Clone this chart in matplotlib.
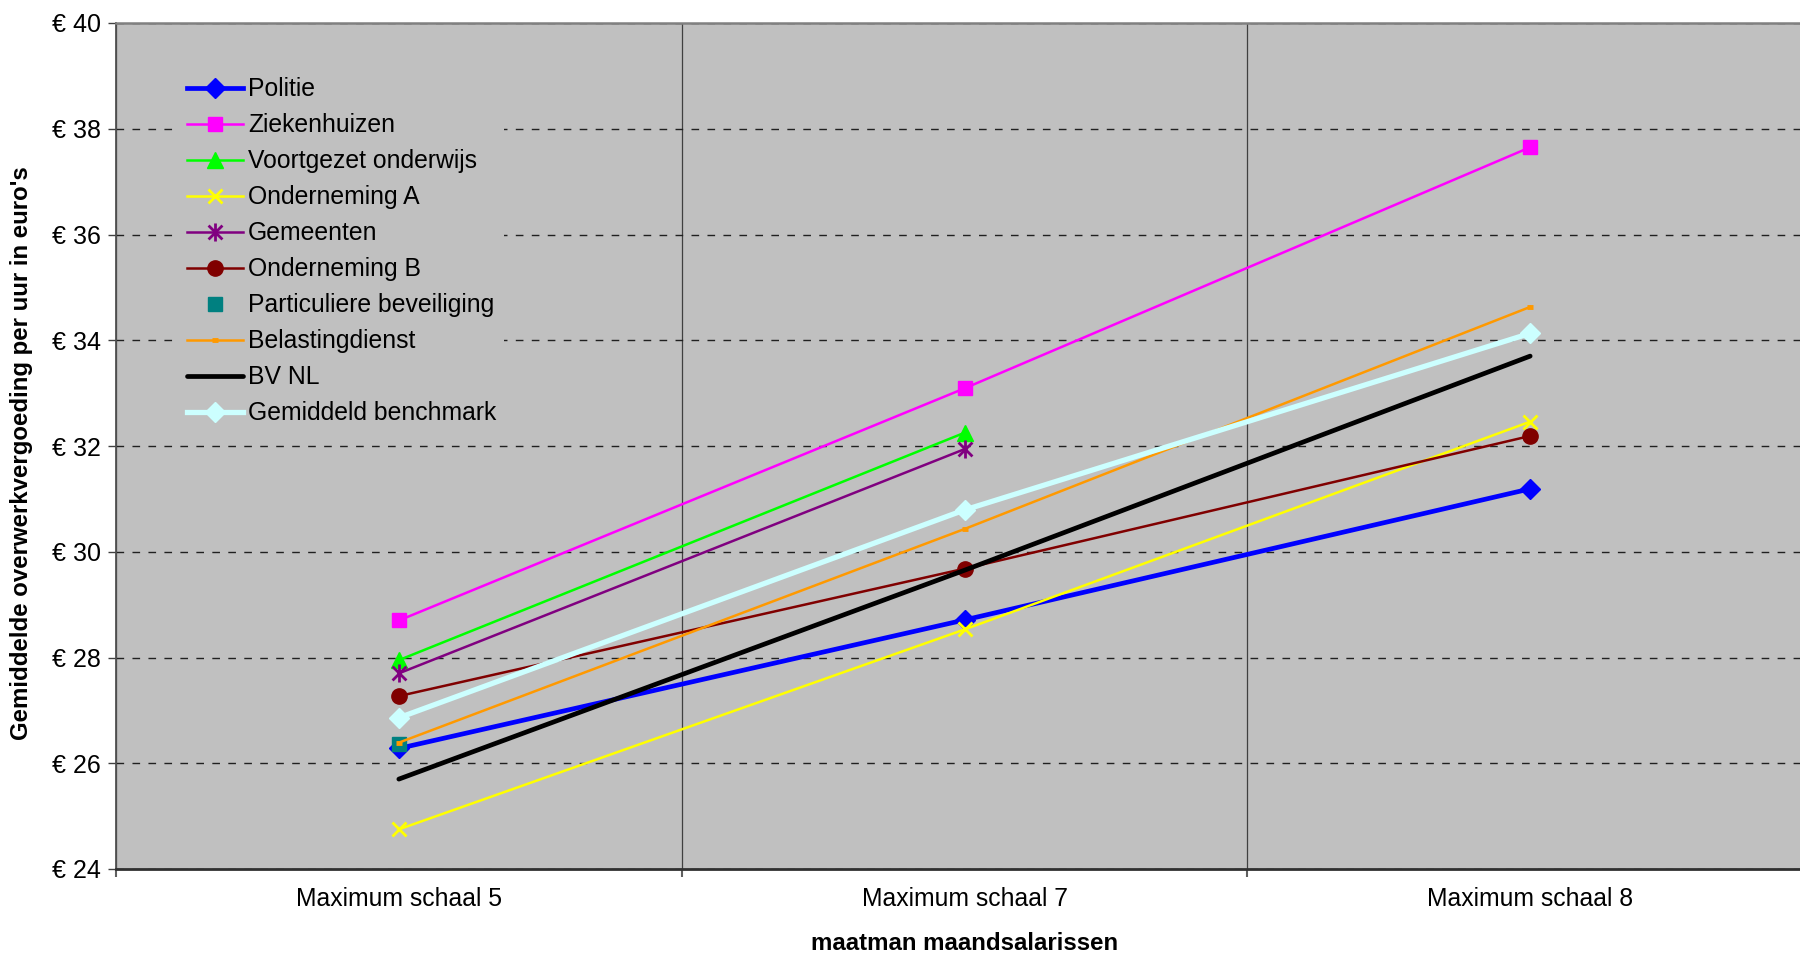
import matplotlib
matplotlib.use('Agg')
import matplotlib.pyplot as plt
import numpy as np
from matplotlib.path import Path

plt.rcParams['font.family'] = ['Liberation Sans', 'DejaVu Sans']

#%% Data
categories = ['Maximum schaal 5', 'Maximum schaal 7', 'Maximum schaal 8']
nan = np.nan

politie = [26.28, 28.71, 31.19]
ziekenhuizen = [28.70, 33.09, 37.65]
voortgezet = [27.95, 32.25, nan]
onderneming_a = [24.75, 28.53, 32.46]
gemeenten = [27.70, 31.94, nan]
onderneming_b = [27.27, 29.68, 32.19]
particulier = [26.37, nan, nan]
belasting = [26.39, 30.43, 34.63]
bv_nl = [25.70, 29.65, 33.70]
benchmark = [26.86, 30.79, 34.13]

yticks = [24, 26, 28, 30, 32, 34, 36, 38, 40]

# asterisk marker like the spreadsheet one (x plus vertical bar)
star = Path([(-1, -1), (1, 1), (-1, 1), (1, -1), (0, -1.3), (0, 1.3)],
            [Path.MOVETO, Path.LINETO, Path.MOVETO, Path.LINETO, Path.MOVETO, Path.LINETO])

series = [
    ('Politie', politie, dict(color='#0000FF', lw=3.4, marker='D', ms=10.5)),
    ('Ziekenhuizen', ziekenhuizen, dict(color='#FF00FF', lw=1.8, marker='s', ms=10.5)),
    ('Voortgezet onderwijs', voortgezet, dict(color='#00FF00', lw=1.8, marker='^', ms=11)),
    ('Onderneming A', onderneming_a, dict(color='#FFFF00', lw=1.8, marker='x', ms=10, mew=2)),
    ('Gemeenten', gemeenten, dict(color='#800080', lw=1.8, marker=star, ms=13, mew=2)),
    ('Onderneming B', onderneming_b, dict(color='#800000', lw=1.8, marker='o', ms=11)),
    ('Particuliere beveiliging', particulier, dict(color='#008080', lw=0, ls='none', marker='s', ms=10.5)),
    ('Belastingdienst', belasting, dict(color='#FF9900', lw=1.8, marker='_', ms=5, mew=3.5)),
    ('BV NL', bv_nl, dict(color='#000000', lw=3.4, solid_capstyle='round')),
    ('Gemiddeld benchmark', benchmark, dict(color='#CCFFFF', lw=3.8, marker='D', ms=10.5)),
]

#%% Plot
fig = plt.figure(figsize=(18, 9.59), dpi=100)
ax = fig.add_axes([116/1800, 90/959, 1697/1800, 846/959])
ax.set_facecolor('#C0C0C0')

x = np.arange(len(categories)) + 0.5
for label, vals, style in series:
    ax.plot(x, vals, label=label, **style)

ax.set_xlim(0, 3)
ax.set_ylim(24, 40)
ax.set_yticks(yticks)
ax.set_yticklabels(['€ {}'.format(v) for v in yticks])
ax.set_xticks([0, 1, 2, 3])
ax.set_xticklabels([])
ax.set_xticks(x, minor=True)
ax.set_xticklabels(categories, minor=True)

ax.tick_params(axis='y', direction='out', length=6, width=1, color='#404040', pad=5, labelsize=18)
ax.tick_params(axis='x', which='major', direction='out', length=6, width=1.5, color='#606060')
ax.tick_params(axis='x', which='minor', length=0, pad=13, labelsize=17.8)

ax.set_axisbelow(True)
ax.yaxis.grid(True, color='#202020', lw=1.0, ls=(0, (5.5, 6)))
ax.xaxis.grid(True, which='major', color='#404040', lw=0.9)

ax.spines['left'].set_color('#505050')
ax.spines['left'].set_linewidth(1.3)
ax.spines['bottom'].set_color('#303030')
ax.spines['bottom'].set_linewidth(2)
ax.spines['top'].set_color('#808080')
ax.spines['top'].set_linewidth(1.8)
ax.spines['right'].set_visible(False)

ax.set_ylabel("Gemiddelde overwerkvergoeding per uur in euro's", fontsize=17.3, fontweight='bold')
ax.yaxis.set_label_coords(-0.049, 0.492)
ax.set_xlabel('maatman maandsalarissen', fontsize=17.3, fontweight='bold')
ax.xaxis.set_label_coords(0.5, -0.074)

leg = ax.legend(loc='upper left', bbox_to_anchor=(180/1800, 1 - 70/959),
                bbox_transform=fig.transFigure, fontsize=17.8, numpoints=1,
                frameon=True, fancybox=False, facecolor='#C0C0C0', edgecolor='none',
                framealpha=1, borderpad=0.3, borderaxespad=0, handlelength=2.25,
                handletextpad=0.2, labelspacing=0.485)

fig.savefig('out.png', dpi=100)
